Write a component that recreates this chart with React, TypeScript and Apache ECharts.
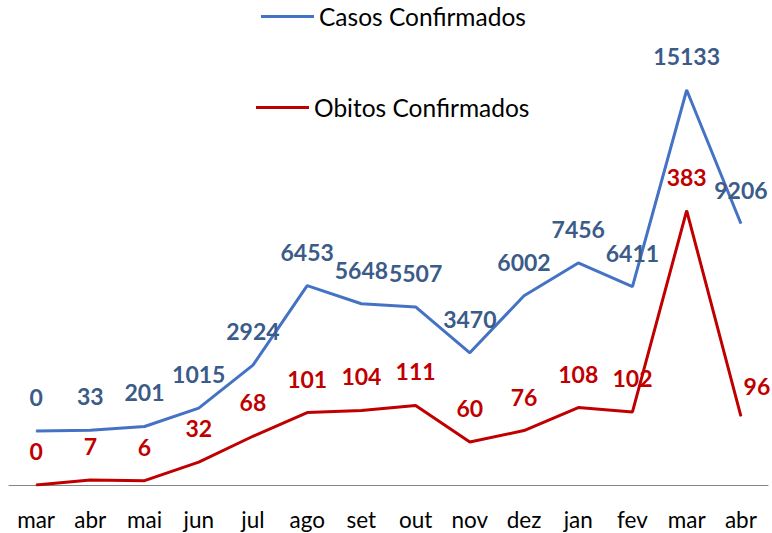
import React, { useEffect, useRef } from "react";
import * as echarts from "echarts";

const months = ["mar", "abr", "mai", "jun", "jul", "ago", "set", "out", "nov", "dez", "jan", "fev", "mar", "abr"];
const casos = [0, 33, 201, 1015, 2924, 6453, 5648, 5507, 3470, 6002, 7456, 6411, 15133, 9206];
const obitos = [0, 7, 6, 32, 68, 101, 104, 111, 60, 76, 108, 102, 383, 96];

const BLUE = "#4472C4";
const BLUE_TEXT = "#3B5B88";
const RED = "#C00000";
const FONT = "Lato, 'Noto Sans', sans-serif";

export default function App() {
  const ref = useRef<HTMLDivElement>(null);
  useEffect(() => {
    if (!ref.current) return;
    const chart = echarts.init(ref.current, null, { renderer: "svg" });
    const obitosData = obitos.map((v, i) =>
      i === obitos.length - 1 ? { value: v, label: { offset: [16, 4] } } : v
    );
    chart.setOption({
      animation: false,
      backgroundColor: "#ffffff",
      textStyle: { fontFamily: FONT },
      legend: [
        {
          data: ["Casos Confirmados"],
          left: 261,
          top: 4,
          padding: 0,
          icon: "rect",
          itemWidth: 53,
          itemHeight: 3,
          textStyle: { fontSize: 24.5, color: "#000", fontFamily: FONT },
        },
        {
          data: ["Obitos Confirmados"],
          left: 256,
          top: 95,
          padding: 0,
          icon: "rect",
          itemWidth: 53,
          itemHeight: 3,
          textStyle: { fontSize: 24.5, color: "#000", fontFamily: FONT },
        },
      ],
      grid: { left: 9, right: 4, top: 45, bottom: 48, containLabel: false },
      xAxis: {
        type: "category",
        data: months,
        boundaryGap: true,
        axisLine: { show: true, onZero: false, lineStyle: { color: "#858585", width: 1 } },
        axisTick: { show: false },
        axisLabel: { color: "#000", fontSize: 22.5, margin: 23, fontFamily: FONT, interval: 0 },
      },
      yAxis: [
        { type: "value", min: -2396, max: 17130, show: false, splitLine: { show: false } },
        { type: "value", min: 0, max: 614, show: false, splitLine: { show: false } },
      ],
      series: [
        {
          name: "Casos Confirmados",
          type: "line",
          yAxisIndex: 0,
          data: casos,
          symbol: "circle",
          symbolSize: 1,
          showSymbol: true,
          itemStyle: { color: BLUE },
          lineStyle: { color: BLUE, width: 3 },
          label: {
            show: true,
            position: "top",
            distance: 22,
            color: BLUE_TEXT,
            fontSize: 23,
            fontWeight: "bold",
            fontFamily: FONT,
          },
        },
        {
          name: "Obitos Confirmados",
          type: "line",
          yAxisIndex: 1,
          data: obitosData,
          symbol: "circle",
          symbolSize: 1,
          showSymbol: true,
          itemStyle: { color: RED },
          lineStyle: { color: RED, width: 3 },
          label: {
            show: true,
            position: "top",
            distance: 22,
            color: RED,
            fontSize: 23,
            fontWeight: "bold",
            fontFamily: FONT,
          },
        },
      ],
    });
    return () => chart.dispose();
  }, []);
  return (
    <div
      ref={ref}
      style={{ position: "fixed", left: 0, top: 0, width: 772, height: 533, background: "#fff" }}
    />
  );
}
